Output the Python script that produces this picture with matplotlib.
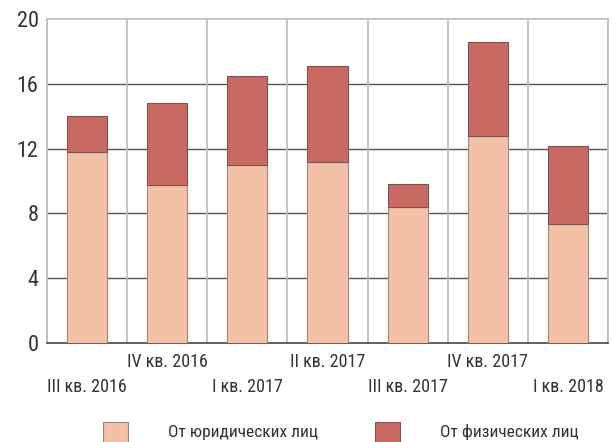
import matplotlib
matplotlib.use("Agg")
import matplotlib.pyplot as plt
from matplotlib.patches import Rectangle
from matplotlib import font_manager
import numpy as np

quarters = ["III кв. 2016", "IV кв. 2016", "I кв. 2017", "II кв. 2017",
            "III кв. 2017", "IV кв. 2017", "I кв. 2018"]
legal = [11.8, 9.75, 11.0, 11.15, 8.4, 12.75, 7.35]
total = [14.0, 14.8, 16.5, 17.1, 9.8, 18.6, 12.15]
yticks = [0, 4, 8, 12, 16, 20]

light = "#F2C1A6"
dark = "#C96A62"

# look for a narrow face, fall back to DejaVu Sans
names = {f.name for f in font_manager.fontManager.ttflist}
narrow = None
for cand in ["Liberation Sans Narrow", "DejaVu Sans Condensed", "Roboto Condensed",
             "Open Sans Condensed", "Noto Sans"]:
    if cand in names:
        narrow = cand
        break
fam = [narrow, "DejaVu Sans"] if narrow else ["DejaVu Sans"]
plt.rcParams['font.family'] = fam
plt.rcParams['font.stretch'] = 'condensed'

fig = plt.figure(figsize=(6.12, 4.42), dpi=100)
ax = fig.add_axes([47/612, 1 - 343/442, 561/612, 324/442])

x = np.arange(len(quarters))
physical = [t - l for t, l in zip(total, legal)]
ax.bar(x, legal, width=0.5, color=light, edgecolor="#9a8a80", linewidth=0.8, zorder=3)
ax.bar(x, physical, bottom=legal, width=0.5, color=dark, edgecolor="#7a5550", linewidth=0.8, zorder=3)

ax.set_xlim(-0.5, len(quarters) - 0.5)
ax.set_ylim(0, 20)
ax.set_yticks(yticks)
ax.set_yticklabels([str(v) for v in yticks], fontsize=16, color="#333333")
for v in yticks[1:-1]:
    ax.axhline(v, color="#555555", linewidth=1.0, zorder=1)
for b in np.arange(-0.5, len(quarters), 1.0):
    ax.axvline(b, color="#bbbbbb", linewidth=1.2, zorder=1)

for s in ["top", "right", "left"]:
    ax.spines[s].set_color("#bbbbbb")
    ax.spines[s].set_linewidth(1.2)
ax.spines["bottom"].set_color("#444444")
ax.spines["bottom"].set_linewidth(1.2)
ax.tick_params(axis="y", length=0, pad=6)
ax.tick_params(axis="x", length=0)
ax.set_xticks(x)
ax.set_xticklabels([])
for i, q in enumerate(quarters):
    off = 13.7 if i % 2 == 1 else 31.7
    ax.annotate(q, (i, 0), xytext=(0, -off), textcoords="offset points",
                ha="center", va="center", fontsize=13, color="#333333",
                annotation_clip=False)

# legend
for px, tx, label, c, ec in [(103, 168, "От юридических лиц", light, "#9a8a80"),
                             (375, 440, "От физических лиц", dark, "#7a5550")]:
    fig.add_artist(Rectangle((px/612, -0.01), 25/612, 24/442, transform=fig.transFigure,
                             facecolor=c, edgecolor=ec, linewidth=0.8))
    fig.text(tx/612, 10/442, label, fontsize=12.5, color="#333333",
             ha="left", va="center")

fig.savefig("out.png", dpi=100)
